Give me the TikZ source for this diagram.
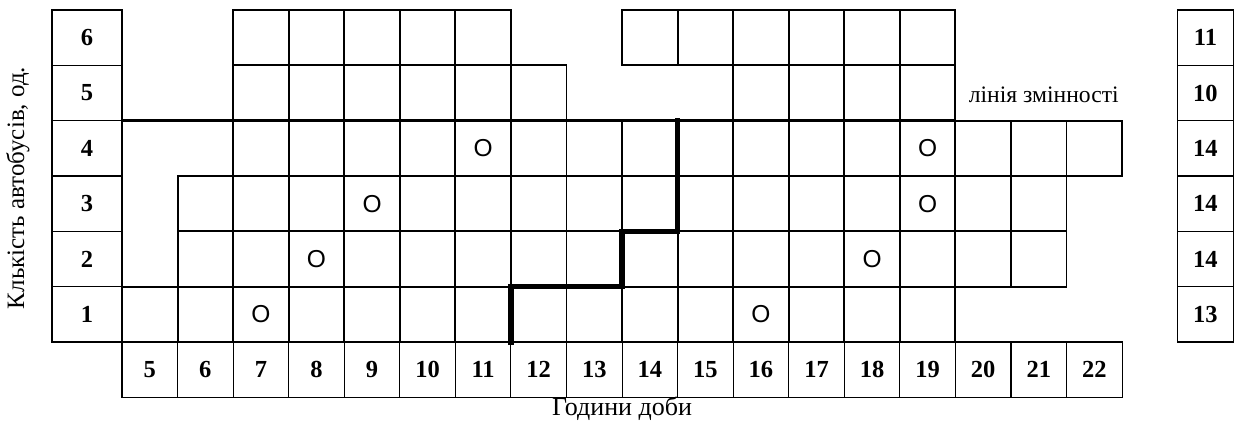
\documentclass[tikz,border=0pt]{standalone}
\usepackage{fontspec}
\setmainfont{Liberation Serif}
\newfontfamily\osans{Liberation Sans}
\begin{document}
\begin{tikzpicture}[x=55.56pt,y=-55.33pt,
  cell/.style={draw=black,line width=1.9pt},
  thincell/.style={draw=black,line width=1.1pt},
  num/.style={font=\fontsize{24.5}{28}\selectfont\bfseries,inner sep=0pt},
  mark0/.style={font=\osans\fontsize{24.5}{28}\selectfont,inner sep=0pt},
  lbl/.style={font=\fontsize{23.6}{26}\selectfont,inner sep=0pt},
  shiftline/.style={line width=5.5pt,line cap=rect},
  varline/.style={line width=3pt}]
\useasboundingbox (-2.196,-0.1807) rectangle (20.068,7.464);
% cells of the schedule
\foreach \k/\a/\b in {0/2/6,0/9/14,1/2/7,1/11/14,2/2/17,3/1/16,4/1/16,5/0/14}{
  \foreach \c in {\a,...,\b}{
    \draw[cell] (\c,\k) rectangle ++(1,1);
  }
}
% hour row
\foreach \h [count=\i from 0] in {5,...,22}{
  \draw[thincell] (\i,6) rectangle ++(1,1);
  \node[num] (h\h) at (\i+0.5,6.5) {\h};
}
% left label column
\foreach \r [count=\i from 0] in {6,5,4,3,2,1}{
  \draw[thincell] (-1.26,\i) rectangle (0,\i+1);
  \node[num] (l\r) at (-0.63,\i+0.5) {\r};
}
% right totals column
\foreach \v [count=\i from 0] in {11,10,14,14,14,13}{
  \draw[thincell] (19,\i) rectangle (20,\i+1);
  \node[num] (t\i) at (19.5,\i+0.5) {\v};
}
% variability line and bottom line
\coordinate (vl0) at (0,2);
\coordinate (vl1) at (15,2);
\draw[varline] (vl0) -- (vl1);
\coordinate (bl0) at (0,6);
\coordinate (bl1) at (15,6);
\draw[line width=2.6pt] (bl0) -- (bl1);
% shift boundary
\coordinate (s0) at (7,6);
\coordinate (s1) at (7,5);
\coordinate (s2) at (9,5);
\coordinate (s3) at (9,4);
\coordinate (s4) at (10,4);
\coordinate (s5) at (10,2);
\draw[shiftline] (s0) -- (s1) -- (s2) -- (s3) -- (s4) -- (s5);
% marks
\foreach \c/\k [count=\n] in {6/2,14/2,4/3,14/3,3/4,13/4,2/5,11/5}{
  \node[mark0] (o\n) at (\c+0.5,\k+0.5) {O};
}
% labels
\node[lbl,anchor=base] (varlbl) at (16.59,1.68) {лінія змінності};
\node[lbl,font=\fontsize{26}{28}\selectfont] (xlbl) at (9,7.21) {Години доби};
\node[lbl,font=\fontsize{25}{28}\selectfont,rotate=90] (ylbl) at (-1.872,3.217) {Клькість автобусів, од.};
\end{tikzpicture}
\end{document}
